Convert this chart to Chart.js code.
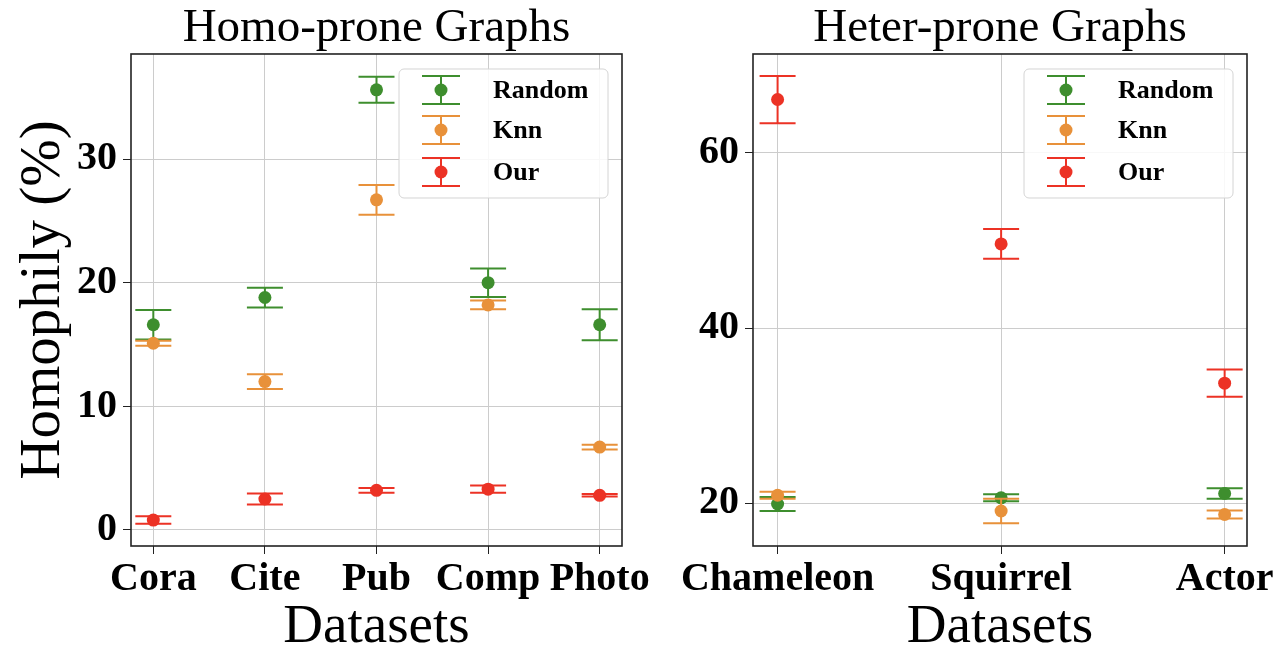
<!DOCTYPE html>
<html>
<head>
<meta charset="utf-8">
<script src="https://cdn.jsdelivr.net/npm/chart.js@4/dist/chart.umd.min.js"></script>
<style>
  body { margin: 0; background: #fff; width: 1279px; height: 648px; overflow: hidden; position: relative; }
  .panel { position: absolute; top: 0; height: 648px; }
</style>
</head>
<body>
<div class="panel" style="left:0;width:680px"><canvas id="homo" width="680" height="648"></canvas></div>
<div class="panel" style="left:640px;width:639px"><canvas id="heter" width="639" height="648"></canvas></div>
<script>
// Homo-prone graphs
const homoLabels = ['Cora', 'Cite', 'Pub', 'Comp', 'Photo'];
const homoRandom = [16.6, 18.8, 35.6, 20.0, 16.6];
const homoRandomErr = [1.2, 0.8, 1.05, 1.15, 1.25];
const homoKnn = [15.1, 12.0, 26.7, 18.2, 6.7];
const homoKnnErr = [0.2, 0.6, 1.2, 0.35, 0.2];
const homoOur = [0.8, 2.5, 3.2, 3.3, 2.8];
const homoOurErr = [0.3, 0.45, 0.2, 0.3, 0.1];
const homoTicks = [0, 10, 20, 30];

// Heter-prone graphs
const heterLabels = ['Chameleon', 'Squirrel', 'Actor'];
const heterRandom = [19.9, 20.6, 21.1];
const heterRandomErr = [0.8, 0.4, 0.6];
const heterKnn = [20.9, 19.1, 18.7];
const heterKnnErr = [0.4, 1.4, 0.45];
const heterOur = [66.1, 49.6, 33.7];
const heterOurErr = [2.7, 1.7, 1.55];
const heterTicks = [20, 40, 60];

const seriesNames = ['Random', 'Knn', 'Our'];
const seriesColors = ['#3e8e2e', '#e8913a', '#ec3225'];

const FONT = "'Liberation Serif', 'Times New Roman', serif";

// barras de erro e moldura, desenhadas com as escalas do Chart.js
const errorBars = {
  id: 'errorBars',
  beforeDatasetDraw(chart, args) {
    const ds = chart.data.datasets[args.index];
    const xs = chart.scales.x, ys = chart.scales.y;
    const ctx = chart.ctx;
    ctx.save();
    ctx.strokeStyle = ds.borderColor;
    ctx.lineWidth = 2;
    ds.data.forEach((p, i) => {
      const e = ds.errors[i];
      const px = xs.getPixelForValue(p.x);
      const top = ys.getPixelForValue(p.y + e);
      const bot = ys.getPixelForValue(p.y - e);
      ctx.beginPath();
      ctx.moveTo(px, top); ctx.lineTo(px, bot);
      ctx.moveTo(px - 18, top); ctx.lineTo(px + 18, top);
      ctx.moveTo(px - 18, bot); ctx.lineTo(px + 18, bot);
      ctx.stroke();
    });
    ctx.restore();
  },
  afterDraw(chart) {
    const ctx = chart.ctx;
    const a = chart.chartArea;
    ctx.save();
    ctx.strokeStyle = '#222';
    ctx.lineWidth = 1.6;
    ctx.strokeRect(a.left, a.top, a.right - a.left, a.bottom - a.top);

    // legenda
    const bw = 209, bh = 129;
    const bx = a.right - 14 - bw, by = a.top + 15;
    ctx.beginPath();
    ctx.roundRect(bx, by, bw, bh, 5);
    ctx.fillStyle = 'rgba(255,255,255,0.85)';
    ctx.fill();
    ctx.strokeStyle = '#d4d4d4';
    ctx.lineWidth = 1;
    ctx.stroke();
    const rows = [21, 61, 103];
    chart.data.datasets.forEach((ds, i) => {
      const cy = by + rows[i];
      const cx = bx + 42;
      ctx.strokeStyle = ds.borderColor;
      ctx.lineWidth = 2;
      ctx.beginPath();
      ctx.moveTo(cx, cy - 14); ctx.lineTo(cx, cy + 14);
      ctx.moveTo(cx - 19, cy - 14); ctx.lineTo(cx + 19, cy - 14);
      ctx.moveTo(cx - 19, cy + 14); ctx.lineTo(cx + 19, cy + 14);
      ctx.stroke();
      ctx.fillStyle = ds.backgroundColor;
      ctx.beginPath();
      ctx.arc(cx, cy, 6.5, 0, Math.PI * 2);
      ctx.fill();
      ctx.fillStyle = '#000';
      ctx.font = 'bold 26px ' + FONT;
      ctx.textBaseline = 'middle';
      ctx.textAlign = 'left';
      ctx.fillText(ds.label, bx + 94, cy + 1);
    });
    ctx.restore();
  }
};

function makeDatasets(values, errs) {
  return seriesNames.map((name, s) => ({
    label: name,
    data: values[s].map((v, i) => ({ x: i, y: v })),
    errors: errs[s],
    backgroundColor: seriesColors[s],
    borderColor: seriesColors[s],
    pointRadius: 6.5,
    pointHoverRadius: 6.5,
    pointBorderWidth: 0,
    order: 3 - s
  }));
}

function makeChart(id, cfg) {
  return new Chart(document.getElementById(id), {
    type: 'scatter',
    data: { datasets: makeDatasets(cfg.values, cfg.errs) },
    plugins: [errorBars],
    options: {
      responsive: false,
      animation: false,
      layout: { padding: { left: 0, right: cfg.padRight, top: 0, bottom: 0 } },
      plugins: {
        legend: { display: false },
        tooltip: { enabled: false },
        title: {
          display: true,
          text: cfg.title,
          fullSize: false,
          color: '#000',
          font: { family: FONT, size: 47, weight: 'normal', lineHeight: 1.085 },
          padding: { top: 3, bottom: 0 }
        }
      },
      scales: {
        x: {
          type: 'linear',
          min: cfg.xMin,
          max: cfg.xMax,
          afterBuildTicks: (s) => { s.ticks = cfg.labels.map((_, i) => ({ value: i })); },
          afterFit: (s) => { s.height = 102; s.paddingLeft = 0; s.paddingRight = 0; },
          ticks: {
            color: '#000',
            padding: 2,
            maxRotation: 0,
            autoSkip: false,
            font: { family: FONT, size: 40, weight: 'bold' },
            callback: (v) => cfg.labels[v]
          },
          grid: { color: '#cccccc', tickColor: '#222', tickLength: 8 },
          border: { display: false },
          title: {
            display: true,
            text: 'Datasets',
            color: '#000',
            font: { family: FONT, size: 55, weight: 'normal', lineHeight: 0.73 },
            padding: { top: 0, bottom: 0 }
          }
        },
        y: {
          min: cfg.yMin,
          max: cfg.yMax,
          afterBuildTicks: (s) => { s.ticks = cfg.ticks.map((v) => ({ value: v })); },
          afterFit: (s) => { s.width = cfg.yWidth; },
          ticks: {
            color: '#000',
            padding: 6,
            font: { family: FONT, size: 40, weight: 'bold' }
          },
          grid: { color: '#cccccc', tickColor: '#222', tickLength: 8 },
          border: { display: false },
          title: {
            display: cfg.yTitle !== '',
            text: cfg.yTitle,
            color: '#000',
            font: { family: FONT, size: 57, weight: 'normal' },
            padding: { top: 10, bottom: 0 }
          }
        }
      }
    }
  });
}

makeChart('homo', {
  title: 'Homo-prone Graphs',
  labels: homoLabels,
  values: [homoRandom, homoKnn, homoOur],
  errs: [homoRandomErr, homoKnnErr, homoOurErr],
  ticks: homoTicks,
  xMin: -0.2, xMax: 4.2,
  yMin: -1.3, yMax: 38.5,
  yWidth: 131,
  padRight: 58,
  yTitle: 'Homophily (%)'
});

makeChart('heter', {
  title: 'Heter-prone Graphs',
  labels: heterLabels,
  values: [heterRandom, heterKnn, heterOur],
  errs: [heterRandomErr, heterKnnErr, heterOurErr],
  ticks: heterTicks,
  xMin: -0.11, xMax: 2.1,
  yMin: 15.1, yMax: 71.3,
  yWidth: 113,
  padRight: 32,
  yTitle: ''
});
</script>
</body>
</html>
